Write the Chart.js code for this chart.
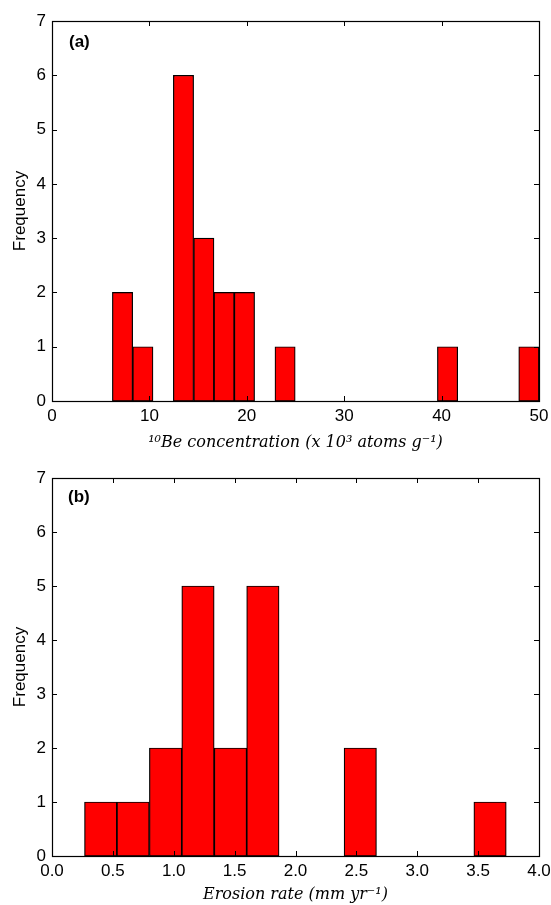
<!DOCTYPE html>
<html>
<head>
<meta charset="utf-8">
<script src="https://cdn.jsdelivr.net/npm/chart.js@4"></script>
<style>
  html, body { margin: 0; padding: 0; background: #fff; }
  .panel { position: relative; width: 551px; }
  .tag { position: absolute; font: bold 17px "Liberation Sans", Arial, sans-serif; color: #000; }
  canvas { display: block; }
</style>
</head>
<body>
<div class="panel" style="height:452px">
  <canvas id="ca" width="551" height="452"></canvas>
  <div class="tag" style="left:69px; top:32px">(a)</div>
</div>
<div class="panel" style="height:453px">
  <canvas id="cb" width="551" height="453"></canvas>
  <div class="tag" style="left:68px; top:35px">(b)</div>
</div>
<script>
// Panel (a): 10Be concentration histogram (bin centres, x10^3 atoms/g)
const beBinCenters = [7.24, 9.33, 11.41, 13.50, 15.59, 17.67, 19.76, 21.84, 23.93, 26.01, 28.10,
                      30.19, 32.27, 34.36, 36.44, 38.53, 40.61, 42.70, 44.79, 46.87, 48.96];
const beCounts     = [2, 1, 0, 6, 3, 2, 2, 0, 1, 0, 0,
                      0, 0, 0, 0, 0, 1, 0, 0, 0, 1];
const beTicks = { min: 0, max: 50, step: 10 };

// Panel (b): erosion rate histogram (bin centres, mm/yr)
const erBinCenters = [0.400, 0.666, 0.933, 1.199, 1.466, 1.732, 1.999, 2.265, 2.532, 2.798, 3.065, 3.331, 3.598];
const erCounts     = [1, 1, 2, 5, 2, 5, 0, 0, 2, 0, 0, 0, 1];
const erTicks = { min: 0, max: 4, step: 0.5 };

const freqTicks = { min: 0, max: 7, step: 1 };

Chart.defaults.color = '#000';
Chart.defaults.font.family = '"Liberation Sans", Arial, sans-serif';

const frameTicks = {
  id: 'frameTicks',
  afterDraw(chart) {
    const ctx = chart.ctx, a = chart.chartArea;
    const xs = chart.scales.x, ys = chart.scales.y;
    const L = 5;
    ctx.save();
    ctx.strokeStyle = '#000';
    ctx.lineWidth = 1;
    ctx.beginPath();
    xs.ticks.forEach(t => {
      const px = Math.round(xs.getPixelForValue(t.value)) + 0.5;
      ctx.moveTo(px, a.bottom); ctx.lineTo(px, a.bottom - L);
      ctx.moveTo(px, a.top); ctx.lineTo(px, a.top + L);
    });
    ys.ticks.forEach(t => {
      const py = Math.round(ys.getPixelForValue(t.value)) + 0.5;
      ctx.moveTo(a.left, py); ctx.lineTo(a.left + L, py);
      ctx.moveTo(a.right, py); ctx.lineTo(a.right - L, py);
    });
    ctx.stroke();
    ctx.lineWidth = 1.2;
    ctx.strokeRect(Math.round(a.left) + 0.5, Math.round(a.top) + 0.5,
                   Math.round(a.right - a.left), Math.round(a.bottom - a.top));
    ctx.restore();
  }
};

function makeHist(id, centers, counts, xt, xTitle, pad, xHeight, titlePadBottom) {
  new Chart(document.getElementById(id), {
    type: 'bar',
    data: {
      datasets: [{
        data: centers.map((c, i) => ({ x: c, y: counts[i] })),
        backgroundColor: '#ff0000',
        borderColor: '#000',
        borderWidth: 1.2,
        borderSkipped: false,
        barPercentage: 1,
        categoryPercentage: 1,
        grouped: false
      }]
    },
    options: {
      responsive: false,
      animation: false,
      layout: { padding: pad },
      plugins: { legend: { display: false }, tooltip: { enabled: false } },
      scales: {
        x: {
          type: 'linear',
          offset: false,
          min: xt.min, max: xt.max,
          grid: { display: false, drawTicks: false },
          border: { display: false },
          ticks: {
            stepSize: xt.step,
            padding: 5,
            maxRotation: 0,
            font: { size: 17 },
            callback: v => xt.step < 1 ? v.toFixed(1) : String(v)
          },
          title: {
            display: true,
            text: xTitle,
            font: { family: '"DejaVu Serif", "Liberation Serif", serif', style: 'italic', size: 16 },
            padding: { top: 0, bottom: titlePadBottom }
          },
          afterFit: s => { s.height = xHeight; s.paddingLeft = 0; s.paddingRight = 0; }
        },
        y: {
          min: freqTicks.min, max: freqTicks.max,
          grid: { display: false, drawTicks: false },
          border: { display: false },
          ticks: { stepSize: freqTicks.step, padding: 6, font: { size: 17 } },
          title: {
            display: true,
            text: 'Frequency',
            font: { size: 17 },
            padding: { top: 10, bottom: 0 }
          },
          afterFit: s => { s.width = 52; s.paddingTop = 0; s.paddingBottom = 0; }
        }
      }
    },
    plugins: [frameTicks]
  });
}

makeHist('ca', beBinCenters, beCounts, beTicks,
  '¹⁰Be concentration (x 10³ atoms g⁻¹)', { top: 21, right: 12, left: 0, bottom: 0 }, 51, 0);
makeHist('cb', erBinCenters, erCounts, erTicks,
  'Erosion rate (mm yr⁻¹)', { top: 26, right: 12, left: 0, bottom: 0 }, 49, 1);
</script>
</body>
</html>
